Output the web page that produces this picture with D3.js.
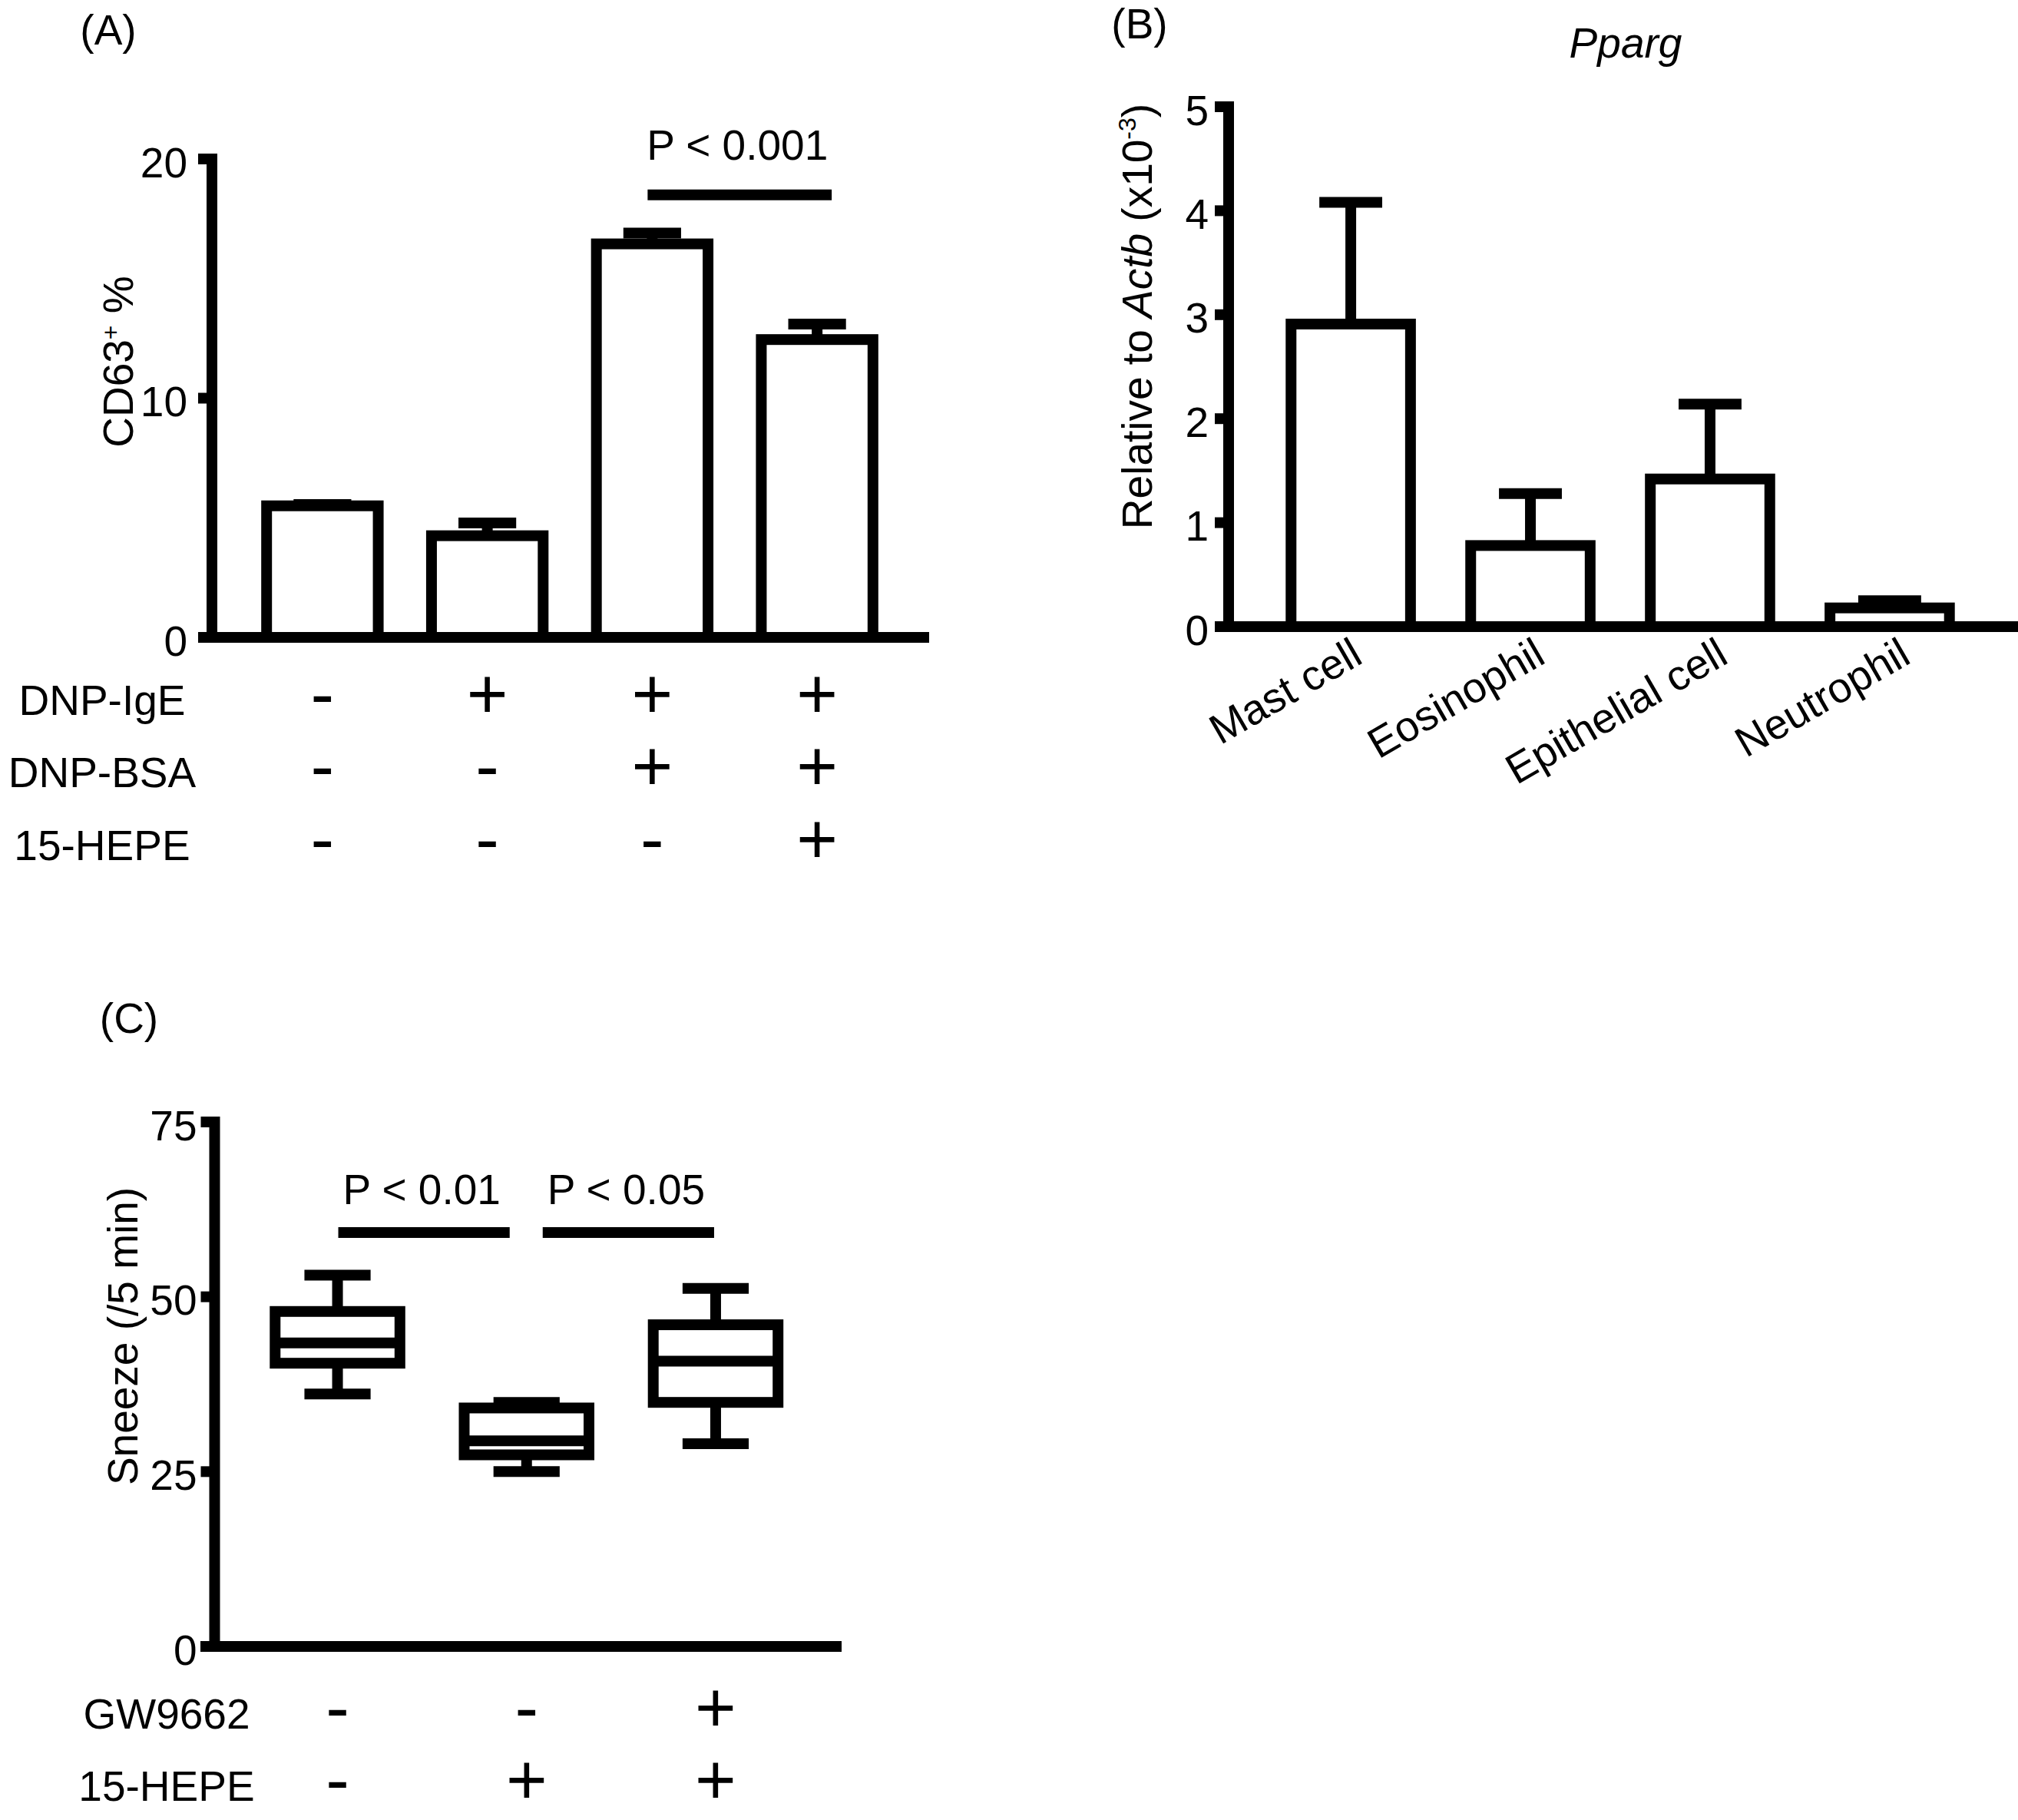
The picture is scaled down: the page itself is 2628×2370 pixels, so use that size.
<!DOCTYPE html>
<html>
<head>
<meta charset="utf-8">
<script src="https://cdnjs.cloudflare.com/ajax/libs/d3/7.8.5/d3.min.js"></script>
<style>
    html, body { margin: 0; padding: 0; background: #fff; }
    svg { display: block; }
    text { font-family: "Liberation Sans", Arial, sans-serif; fill: #000; }
</style>
</head>
<body>
<div class="chart"></div>
<script>
// (A) CD63+ cells after stimulation
var conditionsA = ["none", "IgE", "IgE+BSA", "IgE+BSA+15-HEPE"];
var cd63Mean = [5.5, 4.25, 16.45, 12.45];
var cd63Sem = [0.05, 0.53, 0.45, 0.65];
var cd63Ticks = [0, 10, 20];
var treatmentNamesA = ["DNP-IgE", "DNP-BSA", "15-HEPE"];
var treatmentSignsA = [
    ["-", "+", "+", "+"],
    ["-", "-", "+", "+"],
    ["-", "-", "-", "+"]
];
var comparisonsA = [{a: 2, b: 3, label: "P < 0.001"}];

// (B) Pparg relative to Actb
var cellTypes = ["Mast cell", "Eosinophil", "Epithelial cell", "Neutrophil"];
var ppargMean = [2.91, 0.78, 1.42, 0.18];
var ppargSem = [1.17, 0.50, 0.72, 0.07];
var ppargTicks = [0, 1, 2, 3, 4, 5];

// (C) sneezing, box plots
var groupsC = ["vehicle", "15-HEPE", "GW9662+15-HEPE"];
var sneezeMin = [36.1, 25.0, 29.0];
var sneezeQ1 = [40.5, 27.4, 34.9];
var sneezeMedian = [43.4, 29.4, 40.8];
var sneezeQ3 = [47.9, 34.1, 46.0];
var sneezeMax = [53.1, 34.9, 51.2];
var sneezeTicks = [0, 25, 50, 75];
var treatmentNamesC = ["GW9662", "15-HEPE"];
var treatmentSignsC = [
    ["-", "-", "+"],
    ["-", "+", "+"]
];
var comparisonsC = [{a: 0, b: 1, label: "P < 0.01"}, {a: 1, b: 2, label: "P < 0.05"}];

var LINE = 14,
    FONT = "Liberation Sans, Arial, sans-serif";

var svg = d3.select(".chart").append("svg")
    .attr("width", 2628)
    .attr("height", 2370);

svg.append("rect")
    .attr("width", 2628)
    .attr("height", 2370)
    .attr("fill", "#fff");

function leftAxis(g, y, ticks, pad) {
    g.call(d3.axisLeft(y)
            .tickValues(ticks)
            .tickFormat(d3.format("d"))
            .tickSize(18)
            .tickSizeOuter(0)
            .tickPadding(pad)
            .offset(0))
        .attr("font-size", 55)
        .attr("font-family", FONT);
    g.select(".domain")
        .attr("stroke", "#000")
        .attr("stroke-width", LINE)
        .attr("stroke-linecap", "square");
    g.selectAll(".tick line")
        .attr("stroke", "#000")
        .attr("stroke-width", LINE);
    g.selectAll(".tick text")
        .attr("fill", "#000")
        .attr("dy", "0.43em");
}

function hline(g, x0, x1, y) {
    g.append("line")
        .attr("x1", x0).attr("x2", x1)
        .attr("y1", y).attr("y2", y)
        .attr("stroke", "#000")
        .attr("stroke-width", LINE);
}

function vline(g, x, y0, y1) {
    g.append("line")
        .attr("x1", x).attr("x2", x)
        .attr("y1", y0).attr("y2", y1)
        .attr("stroke", "#000")
        .attr("stroke-width", LINE);
}

function barsWithError(g, cats, x, y, means, sems, widthFrac) {
    var bw = x.step() * widthFrac,
        cw = x.step() * 0.35;

    g.selectAll("line.err").data(cats).join("line")
        .attr("class", "err")
        .attr("x1", function(d) { return x(d); })
        .attr("x2", function(d) { return x(d); })
        .attr("y1", function(d, i) { return y(means[i]); })
        .attr("y2", function(d, i) { return y(means[i] + sems[i]); })
        .attr("stroke", "#000")
        .attr("stroke-width", LINE);

    g.selectAll("line.cap").data(cats).join("line")
        .attr("class", "cap")
        .attr("x1", function(d) { return x(d) - cw / 2; })
        .attr("x2", function(d) { return x(d) + cw / 2; })
        .attr("y1", function(d, i) { return y(means[i] + sems[i]); })
        .attr("y2", function(d, i) { return y(means[i] + sems[i]); })
        .attr("stroke", "#000")
        .attr("stroke-width", LINE);

    g.selectAll("rect.bar").data(cats).join("rect")
        .attr("class", "bar")
        .attr("x", function(d) { return x(d) - bw / 2; })
        .attr("width", bw)
        .attr("y", function(d, i) { return y(means[i]); })
        .attr("height", function(d, i) { return y(0) - y(means[i]); })
        .attr("fill", "#fff")
        .attr("stroke", "#000")
        .attr("stroke-width", LINE);
}

function signTable(g, cats, x, names, signs, labelX, rowY) {
    names.forEach(function(name, r) {
        g.append("text")
            .attr("x", labelX)
            .attr("y", rowY[r])
            .attr("text-anchor", "middle")
            .attr("font-size", 55)
            .text(name);

        g.selectAll("text.sign" + r).data(cats).join("text")
            .attr("class", "sign" + r)
            .attr("x", function(d) { return x(d); })
            .attr("y", rowY[r] + 4)
            .attr("text-anchor", "middle")
            .attr("font-size", 92)
            .text(function(d, i) { return signs[r][i]; });
    });
}

function panelLetter(label, x, y) {
    svg.append("text")
        .attr("x", x)
        .attr("y", y)
        .attr("text-anchor", "middle")
        .attr("font-size", 55)
        .text(label);
}

// ---------- (A)
var gA = svg.append("g");
var xA = d3.scalePoint().domain(conditionsA).range([276, 1208]).padding(0.67);
var yA = d3.scaleLinear().domain([0, 20]).range([830, 207]);

panelLetter("(A)", 141, 58);

barsWithError(gA, conditionsA, xA, yA, cd63Mean, cd63Sem, 0.677);
hline(gA, 258, 1210, yA(0));
gA.append("g").attr("transform", "translate(276,0)")
    .call(leftAxis, yA, cd63Ticks, 14);

var titleA = gA.append("text")
    .attr("transform", "translate(173,471) rotate(-90)")
    .attr("text-anchor", "middle")
    .attr("font-size", 55);
titleA.append("tspan").text("CD63");
titleA.append("tspan").attr("font-size", 32).attr("dy", -18).text("+");
titleA.append("tspan").attr("dy", 18).text(" %");

comparisonsA.forEach(function(c) {
    var x0 = xA(conditionsA[c.a]) - 6,
        x1 = xA(conditionsA[c.b]) + 19,
        yy = yA(18.5);
    hline(gA, x0, x1, yy);
    gA.append("text")
        .attr("x", (x0 + x1) / 2 - 3)
        .attr("y", yy - 46)
        .attr("text-anchor", "middle")
        .attr("font-size", 55)
        .text(c.label);
});

signTable(gA, conditionsA, xA, treatmentNamesA, treatmentSignsA, 133, [931, 1025, 1120]);

// ---------- (B)
var gB = svg.append("g");
var xB = d3.scalePoint().domain(cellTypes).range([1600, 2620]).padding(0.68);
var yB = d3.scaleLinear().domain([0, 5]).range([816, 139]);

panelLetter("(B)", 1484, 50);

gB.append("text")
    .attr("x", 2117)
    .attr("y", 75)
    .attr("text-anchor", "middle")
    .attr("font-size", 55)
    .attr("font-style", "italic")
    .text("Pparg");

barsWithError(gB, cellTypes, xB, yB, ppargMean, ppargSem, 0.665);
hline(gB, 1582, 2628, yB(0));
gB.append("g").attr("transform", "translate(1600,0)")
    .call(leftAxis, yB, ppargTicks, 8);

var titleB = gB.append("text")
    .attr("transform", "translate(1500,412) rotate(-90)")
    .attr("text-anchor", "middle")
    .attr("font-size", 55);
titleB.append("tspan").text("Relative to ");
titleB.append("tspan").attr("font-style", "italic").text("Actb");
titleB.append("tspan").text(" (x10");
titleB.append("tspan").attr("font-size", 32).attr("dy", -21).text("-3");
titleB.append("tspan").attr("dy", 21).text(")");

gB.selectAll("text.cell").data(cellTypes).join("text")
    .attr("class", "cell")
    .attr("transform", function(d, i) { return "translate(" + (xB(d) + 18 + 4 * i) + ",862) rotate(-30)"; })
    .attr("text-anchor", "end")
    .attr("font-size", 55)
    .text(function(d) { return d; });

// ---------- (C)
var gC = svg.append("g");
var xC = d3.scalePoint().domain(groupsC).range([279.5, 1092]).padding(0.65);
var yC = d3.scaleLinear().domain([0, 75]).range([2144, 1461]);

panelLetter("(C)", 168, 1345);

var boxW = xC.step() * 0.66,
    capW = xC.step() * 0.35;

groupsC.forEach(function(grp, i) {
    var cx = xC(grp);
    vline(gC, cx, yC(sneezeMax[i]), yC(sneezeQ3[i]));
    vline(gC, cx, yC(sneezeQ1[i]), yC(sneezeMin[i]));
    hline(gC, cx - capW / 2, cx + capW / 2, yC(sneezeMax[i]));
    hline(gC, cx - capW / 2, cx + capW / 2, yC(sneezeMin[i]));
    gC.append("rect")
        .attr("x", cx - boxW / 2)
        .attr("width", boxW)
        .attr("y", yC(sneezeQ3[i]))
        .attr("height", yC(sneezeQ1[i]) - yC(sneezeQ3[i]))
        .attr("fill", "#fff")
        .attr("stroke", "#000")
        .attr("stroke-width", LINE);
    hline(gC, cx - boxW / 2, cx + boxW / 2, yC(sneezeMedian[i]));
});

hline(gC, 261, 1096, yC(0));
gC.append("g").attr("transform", "translate(279.5,0)")
    .call(leftAxis, yC, sneezeTicks, 5);

gC.append("text")
    .attr("transform", "translate(179,1740) rotate(-90)")
    .attr("text-anchor", "middle")
    .attr("font-size", 55)
    .text("Sneeze (/5 min)");

comparisonsC.forEach(function(c) {
    // leave a small gap where two bars meet over the shared group
    var x0 = xC(groupsC[c.a]) + (c.a === 1 ? 21 : 1),
        x1 = xC(groupsC[c.b]) - (c.b === 1 ? 22 : 2),
        yy = yC(59.2);
    hline(gC, x0, x1, yy);
    gC.append("text")
        .attr("x", (x0 + x1) / 2 - 3)
        .attr("y", yy - 37)
        .attr("text-anchor", "middle")
        .attr("font-size", 55)
        .text(c.label);
});

signTable(gC, groupsC, xC, treatmentNamesC, treatmentSignsC, 217, [2251, 2345]);
</script>
</body>
</html>
